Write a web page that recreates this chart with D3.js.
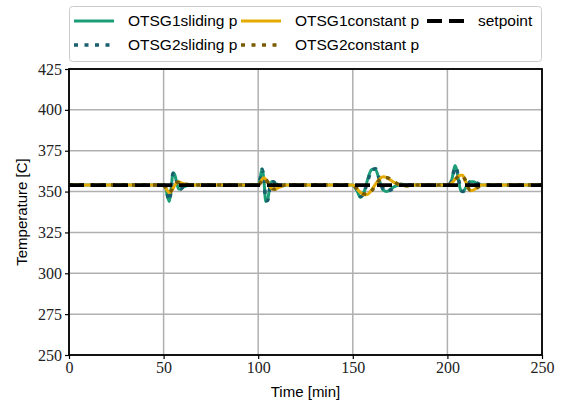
<!DOCTYPE html>
<html><head><meta charset="utf-8">
<script src="https://cdn.jsdelivr.net/npm/d3@7"></script>
<style>body{margin:0;background:#fff}</style>
</head><body>
<script>
const time = [0,
 50,51,52,53,54,55,56,57,58,59,60,62,64,66,70,
 100,101,102,103,104,105,106,107,108,109,110,112,114,116,120,
 150,152,154,156,158,160,162,164,166,168,170,172,174,176,178,182,
 200,202,203,204,205,206,207,208,209,210,211,212,214,216,218,222,
 250];
const otsg1Sliding = [354,
 354,353,347,344,352,361.5,360,355,351.5,351.5,352.5,353.5,354,354,354,
 354,358,364,357,344,345,352,356,356,355,354.5,353.5,354,354,354,
 354,351,346.5,350,358,363.5,363.5,357,351,350,351.5,353,354,354.5,354,354,
 354,356,361,366,363,356,351,350,351,353,355,356,356,354.5,354,354,
 354];
const otsg2Sliding = [354,
 354,353.5,348,344.5,351,361,360.5,356,352,351.5,352.5,353.5,354,354,354,
 354,357.5,363.5,358,345,344.5,351,355.5,356,355,354.5,354,354,354,354,
 354,351.5,347,349.5,357,363,364,358,352,350,351,352.5,354,354.5,354,354,
 354,356,360.5,365,363.5,357,352,350,350.5,352.5,354.5,356,356,355,354,354,
 354];
const otsg1Constant = [354,
 354,352.5,350.5,349.5,350,352,354,355.5,356,355.5,355,354.5,354,354,354,
 354,355.5,357.5,358.5,357.5,355.5,353.5,352,351.5,351.5,352,353,354,354,354,
 354,352,349.5,348,348.5,351,354.5,357.5,359,358.5,357,355.5,354.5,354,353.5,354,
 354,355,356,357.5,358.5,359.5,360,360,358,355,352,350.5,351,353,354,354,
 354];
const otsg2Constant = [354,
 354,352.5,350.5,349.5,350.5,352.5,354.5,355.5,355.5,355,354.5,354.5,354,354,354,
 354,355,357,358,357.5,356,354,352.5,351.5,351.5,352,353,354,354,354,
 354,352,349.5,348.5,348.5,350.5,354,357,358.5,358.5,357.5,356,354.5,354,353.5,354,
 354,355,356,357,358.5,359.5,360,359.5,358,355.5,352.5,351,351,352.5,354,354,
 354];
const setpointTime = [0, 250];
const setpointValue = [354, 354];
const xTicks = [0,50,100,150,200,250];
const yTicks = [250,275,300,325,350,375,400,425];
const seriesNames = ["OTSG1sliding p","OTSG2sliding p","OTSG1constant p","OTSG2constant p","setpoint"];

const W=563,H=403;
const L=69,R=542,T=69,B=355;
const svg=d3.select("body").append("svg").attr("width",W).attr("height",H);
const x=d3.scaleLinear().domain([0,250]).range([L,R]);
const y=d3.scaleLinear().domain([250,425]).range([B,T]);

// grid
const g=svg.append("g");
g.selectAll(".gx").data(xTicks).enter().append("line")
 .attr("x1",d=>x(d)).attr("x2",d=>x(d)).attr("y1",T).attr("y2",B)
 .attr("stroke","#b0b0b0").attr("stroke-width",1.5);
g.selectAll(".gy").data(yTicks).enter().append("line")
 .attr("y1",d=>y(d)).attr("y2",d=>y(d)).attr("x1",L).attr("x2",R)
 .attr("stroke","#b0b0b0").attr("stroke-width",1.5);

const styles = [
 {vals:otsg1Sliding, color:"#1b9e77", w:3, dash:null},
 {vals:otsg2Sliding, color:"#1a5f6e", w:3.5, dash:"4,6.5"},
 {vals:otsg1Constant, color:"#e6ab02", w:3, dash:null},
 {vals:otsg2Constant, color:"#7a5c00", w:3.5, dash:"4,6.5"},
];
const line=d3.line().x(d=>x(d[0])).y(d=>y(d[1])).curve(d3.curveMonotoneX);
const plot=svg.append("g");
plot.append("clipPath").attr("id","cp").append("rect").attr("x",L).attr("y",T).attr("width",R-L).attr("height",B-T);
styles.forEach(s=>{
 plot.append("path").attr("clip-path","url(#cp)")
  .datum(time.map((t,i)=>[t,s.vals[i]]))
  .attr("d",line).attr("fill","none").attr("stroke",s.color)
  .attr("stroke-width",s.w).attr("stroke-dasharray",s.dash).attr("stroke-linejoin","round");
});
plot.append("path").datum(setpointTime.map((t,i)=>[t,setpointValue[i]]))
 .attr("d",d3.line().x(d=>x(d[0])).y(d=>y(d[1])))
 .attr("fill","none").attr("stroke","#000").attr("stroke-width",3.8).attr("stroke-dasharray","15,7");

// axes
const tickFont='"Liberation Serif", "DejaVu Serif", serif';
const xa=svg.append("g").attr("transform",`translate(0,${B})`).call(d3.axisBottom(x).tickValues(xTicks).tickSize(4).tickPadding(3));
const ya=svg.append("g").attr("transform",`translate(${L},0)`).call(d3.axisLeft(y).tickValues(yTicks).tickSize(4).tickPadding(3));
[xa,ya].forEach(a=>{
 a.select(".domain").remove();
 a.selectAll("line").attr("stroke","#000").attr("stroke-width",1.2);
 a.selectAll("text").attr("font-family",tickFont).attr("font-size",16).attr("fill","#222");
});
svg.append("rect").attr("x",L).attr("y",T).attr("width",R-L).attr("height",B-T)
 .attr("fill","none").attr("stroke","#000").attr("stroke-width",1.8);

const sans='"Liberation Sans", "DejaVu Sans", sans-serif';
svg.append("text").attr("x",(L+R)/2).attr("y",397).attr("text-anchor","middle")
 .attr("font-family",sans).attr("font-size",15).text("Time [min]");
svg.append("text").attr("transform",`translate(27,${(T+B)/2}) rotate(-90)`).attr("text-anchor","middle")
 .attr("font-family",sans).attr("font-size",15).text("Temperature [C]");

// legend
const lg=svg.append("g");
lg.append("rect").attr("x",69.5).attr("y",6.5).attr("width",472).attr("height",55).attr("rx",3)
 .attr("fill","#fff").attr("stroke","#cccccc").attr("stroke-width",1);
const legendItems=[
 {name:seriesNames[0],color:"#1b9e77",w:3,dash:null,lx:74,ly:21},
 {name:seriesNames[1],color:"#1a5f6e",w:3.5,dash:"4,6.5",lx:74,ly:45},
 {name:seriesNames[2],color:"#e6ab02",w:3,dash:null,lx:241,ly:21},
 {name:seriesNames[3],color:"#7a5c00",w:3.5,dash:"4,6.5",lx:241,ly:45},
 {name:seriesNames[4],color:"#000",w:3.8,dash:"15,7",lx:427,ly:21},
];
legendItems.forEach(it=>{
 lg.append("line").attr("x1",it.lx).attr("x2",it.lx+40).attr("y1",it.ly).attr("y2",it.ly)
  .attr("stroke",it.color).attr("stroke-width",it.w).attr("stroke-dasharray",it.dash);
 lg.append("text").attr("x",it.lx+(it.name==="setpoint"?51:54)).attr("y",it.ly+5)
  .attr("font-family",sans).attr("font-size",15.5).text(it.name);
});
</script>
</body></html>
